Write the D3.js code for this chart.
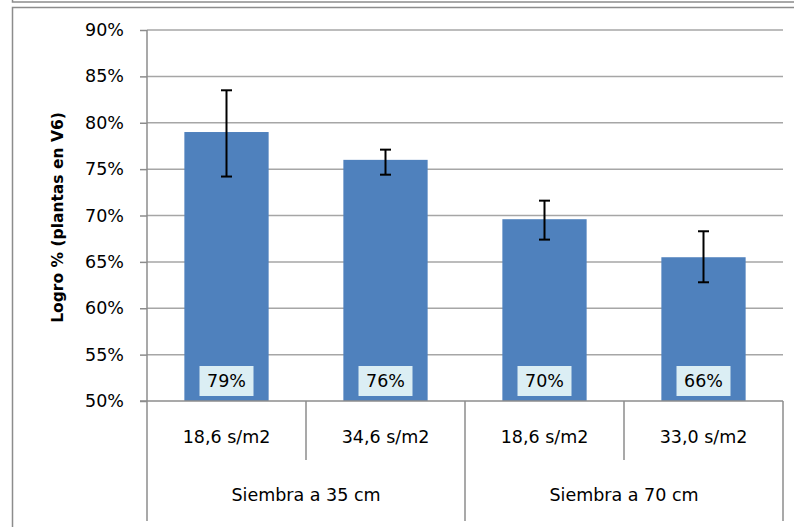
<!DOCTYPE html>
<html><head><meta charset="utf-8">
<script src="https://cdn.jsdelivr.net/npm/d3@7"></script>
<style>body{margin:0;background:#fff;}svg{display:block;}text{font-family:"DejaVu Sans",sans-serif;}</style>
</head><body>
<svg id="c" width="794" height="527"></svg>
<script>
const categories = ["18,6 s/m2","34,6 s/m2","18,6 s/m2","33,0 s/m2"];
const groups = ["Siembra a 35 cm","Siembra a 70 cm"];
const groupOf = [0,0,1,1];
const values = [79.0, 76.0, 69.6, 65.5];
const errLow = [74.2, 74.4, 67.4, 62.8];
const errHigh = [83.5, 77.1, 71.6, 68.3];
const labels = ["79%","76%","70%","66%"];
const yTicks = [50,55,60,65,70,75,80,85,90];
const yTitle = "Logro % (plantas en V6)";

const svg = d3.select("#c");
const L = 147, R = 783, T = 30, B = 401;
const gridColor = "#a6a6a6", axisColor = "#8c8c8c";
const FS = 17.5;

// outer frames
svg.append("rect").attr("x",12.5).attr("y",-10).attr("width",900).attr("height",12)
  .attr("fill","none").attr("stroke",axisColor).attr("stroke-width",1.5);
svg.append("rect").attr("x",12.5).attr("y",7.5).attr("width",900).attr("height",600)
  .attr("fill","none").attr("stroke",axisColor).attr("stroke-width",1.5);

const x = d3.scaleBand().domain(d3.range(categories.length)).range([L,R]).paddingInner(0.47).paddingOuter(0.235);
const xs = d3.scaleBand().domain(d3.range(categories.length)).range([L,R]);
const y = d3.scaleLinear().domain([50,90]).range([B,T]);

// gridlines
svg.append("g").selectAll("line").data(yTicks.filter(t=>t>50)).join("line")
  .attr("x1",L).attr("x2",R).attr("y1",d=>y(d)).attr("y2",d=>y(d))
  .attr("stroke",gridColor).attr("stroke-width",1.5);

// y axis
const yAxis = d3.axisLeft(y).tickValues(yTicks).tickSize(7).tickPadding(16).tickFormat(d=>d+"%");
const ga = svg.append("g").attr("transform",`translate(${L},0)`).call(yAxis);
ga.select(".domain").remove();
ga.selectAll("line").attr("stroke",axisColor).attr("stroke-width",1.5);
ga.selectAll("text").attr("font-size",FS).attr("fill","#000").attr("font-family","'DejaVu Sans',sans-serif");
svg.append("line").attr("x1",L).attr("x2",L).attr("y1",T).attr("y2",521).attr("stroke",axisColor).attr("stroke-width",1.5);

// bars
svg.append("g").selectAll("rect").data(values).join("rect")
  .attr("x",(d,i)=>x(i)).attr("width",x.bandwidth())
  .attr("y",d=>y(d)).attr("height",d=>B-y(d)).attr("fill","#4f81bd");

// error bars
const eb = svg.append("g").attr("stroke","#000").attr("stroke-width",2);
values.forEach((v,i)=>{
  const cx = x(i)+x.bandwidth()/2;
  eb.append("line").attr("x1",cx).attr("x2",cx).attr("y1",y(errLow[i])).attr("y2",y(errHigh[i]));
  eb.append("line").attr("x1",cx-5.5).attr("x2",cx+5.5).attr("y1",y(errLow[i])).attr("y2",y(errLow[i]));
  eb.append("line").attr("x1",cx-5.5).attr("x2",cx+5.5).attr("y1",y(errHigh[i])).attr("y2",y(errHigh[i]));
});

// data labels
const lg = svg.append("g");
labels.forEach((t,i)=>{
  const cx = x(i)+x.bandwidth()/2;
  lg.append("rect").attr("x",cx-27).attr("y",366).attr("width",54).attr("height",30).attr("fill","#dbeef4");
  lg.append("text").attr("x",cx).attr("y",381).attr("dy","0.35em").attr("text-anchor","middle")
    .attr("font-size",FS).text(t);
});

// x axis line
svg.append("line").attr("x1",L-7).attr("x2",R).attr("y1",B).attr("y2",B).attr("stroke",axisColor).attr("stroke-width",1.5);
svg.append("line").attr("x1",R).attr("x2",R).attr("y1",B).attr("y2",521).attr("stroke",axisColor).attr("stroke-width",1.5);

// category dividers & labels
categories.forEach((c,i)=>{
  const cx = xs(i)+xs.bandwidth()/2;
  svg.append("text").attr("x",cx).attr("y",437).attr("dy","0.35em").attr("text-anchor","middle").attr("font-size",FS).text(c);
  if(i>0){
    const long = groupOf[i]!==groupOf[i-1];
    svg.append("line").attr("x1",xs(i)).attr("x2",xs(i)).attr("y1",B).attr("y2",long?521:460)
      .attr("stroke",axisColor).attr("stroke-width",1.5);
  }
});
groups.forEach((g,gi)=>{
  const idx = d3.range(categories.length).filter(i=>groupOf[i]===gi);
  const x0 = xs(idx[0]), x1 = xs(idx[idx.length-1])+xs.bandwidth();
  svg.append("text").attr("x",(x0+x1)/2).attr("y",495).attr("dy","0.35em").attr("text-anchor","middle").attr("font-size",FS).text(g);
});

// y title
svg.append("text").attr("transform",`translate(58,${(T+B)/2+2}) rotate(-90)`).attr("text-anchor","middle")
  .attr("dy","0.35em").attr("font-size",15.5).attr("font-weight","bold").text(yTitle);
</script>
</body></html>
